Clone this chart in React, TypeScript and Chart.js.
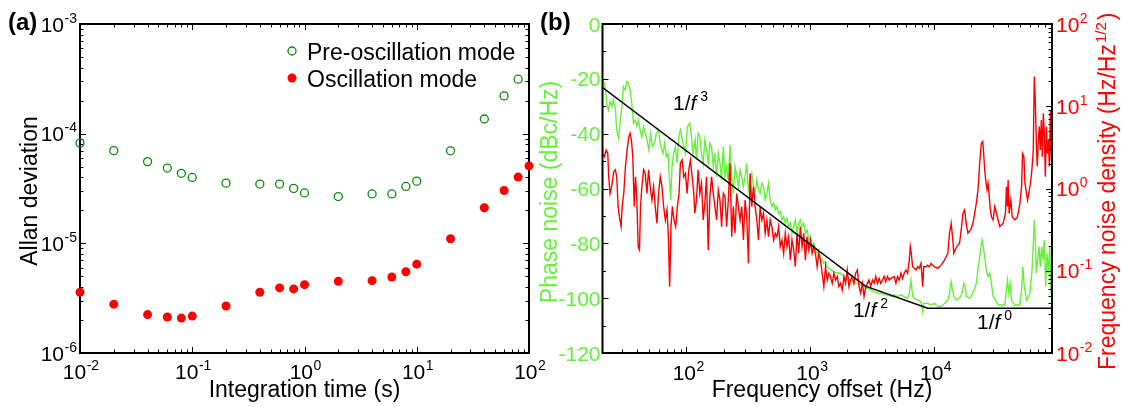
import React, { useEffect, useRef } from "react";
import { Chart, registerables } from "chart.js";

Chart.register(...registerables);

const FONT = '"Liberation Sans", Arial, Helvetica, sans-serif';
const W = 1122;
const H = 407;

const DARK_GREEN = "#0c8a0c";
const RED = "#ff0000";
const LIGHT_GREEN = "#66f03a";

// ---------------- Panel (a): Allan deviation ----------------
const tauPre = [0.01, 0.02, 0.04, 0.06, 0.08, 0.1, 0.2, 0.4, 0.6, 0.8, 1, 2, 4, 6, 8, 10, 20, 40, 60, 80];
const allanPre = [8.2e-5, 7.0e-5, 5.56e-5, 4.86e-5, 4.35e-5, 3.99e-5, 3.54e-5, 3.47e-5, 3.47e-5, 3.17e-5, 2.88e-5, 2.67e-5, 2.82e-5, 2.82e-5, 3.3e-5, 3.69e-5, 6.98e-5, 1.36e-4, 2.21e-4, 3.14e-4];
const tauOsc = [0.01, 0.02, 0.04, 0.06, 0.08, 0.1, 0.2, 0.4, 0.6, 0.8, 1, 2, 4, 6, 8, 10, 20, 40, 60, 80, 100];
const allanOsc = [3.58e-6, 2.79e-6, 2.24e-6, 2.13e-6, 2.08e-6, 2.17e-6, 2.68e-6, 3.58e-6, 3.92e-6, 3.84e-6, 4.2e-6, 4.5e-6, 4.57e-6, 4.93e-6, 5.51e-6, 6.46e-6, 1.1e-5, 2.11e-5, 3.03e-5, 4.02e-5, 5.08e-5];
const tauTickExps = [-2, -1, 0, 1, 2];
const allanTickExps = [-6, -5, -4, -3];
const legendLabels = ["Pre-oscillation mode", "Oscillation mode"];

// ---------------- Panel (b): phase / frequency noise ----------------
const phaseFreq = [
  20.6, 21.3, 22.1, 22.6, 23.4, 24.1, 24.9, 25.6, 26.6, 27.3,
  28.3, 29.2, 30.2, 30.9, 31.9, 32.9, 34.0, 35.0, 36.1, 37.3,
  38.5, 39.7, 40.9, 42.2, 43.6, 45.0, 46.4, 47.9, 49.7, 51.3,
  52.9, 55.3, 57.0, 59.5, 61.8, 64.6, 66.6, 68.7, 70.9, 74.5,
  76.4, 78.8, 81.3, 83.9, 86.6, 89.3, 93.9, 98.1, 101.8, 106.4,
  109.7, 113.2,
  117.6, 120.5, 124.3, 128.3, 132.3, 136.5, 140.8, 145.3, 150.0, 154.7,
  159.6, 164.7, 169.9, 175.3, 180.8, 186.5, 192.4, 198.6, 204.8, 211.3,
  218.0, 224.9, 232.1, 239.4, 247.0, 254.8, 263.0, 271.3, 279.9, 288.8,
  297.9, 307.4, 317.0, 327.1, 337.5, 348.1, 359.2, 370.6, 382.3, 394.4,
  406.9, 419.8, 433.1, 446.8, 461.0, 475.6, 490.7, 506.2, 522.3, 538.8,
  555.9, 573.5, 591.7, 610.5, 629.8, 649.8, 670.4, 691.6, 713.6, 736.2,
  759.6, 783.4, 808.3, 833.8, 860.3, 887.5, 915.7, 944.7, 974.7, 1006,
  1038, 1070, 1104, 1139, 1175, 1213, 1251, 1291, 1332, 1374,
  1418, 1462, 1556, 1657, 1764, 1877, 1998, 2127, 2263, 2409,
  2565, 2729, 2905, 3092, 3291, 3503, 3728, 3968, 4224, 4496,
  4786, 5093, 5422, 5770, 6142, 6338, 6537, 6661, 6787, 6958,
  7407, 7884, 8137, 8290, 8932, 9506, 10118, 10770, 11463, 12202,
  12988, 13398, 13823, 14173, 14531, 15179, 16157, 16879, 17525, 17967,
  18420, 19486, 20740, 22078, 23066, 23944, 24547, 25168, 25800, 26617,
  27463, 28332, 29240, 30161, 31510,
  33130, 37520, 38710, 39440, 40440, 41460, 42500, 45240, 49690, 51270,
  52560, 53890, 56290, 59920, 62580, 64970, 66200, 67450, 69160, 70910,
  72700, 74540, 76420, 78340, 80330, 82350, 84420, 86560, 88740, 91000,
  92720,
];
const phaseNoise = [
  -19.8, -21.0, -23.5, -28.9, -31.4, -28.3, -30.1, -27.7, -30.8, -38.7,
  -41.7, -35.0, -29.5, -22.9, -24.1, -21.0, -21.6, -24.1, -28.9, -36.2,
  -35.0, -37.4, -35.0, -38.7, -41.1, -37.4, -39.9, -42.3, -46.0, -39.9,
  -44.7, -43.5, -39.9, -38.7, -44.7, -47.2, -43.5, -48.4, -47.2, -64.2,
  -52.0, -47.2, -44.7, -50.8, -41.1, -38.7, -43.5, -47.2, -37.4, -36.2,
  -41.1, -47.2,
  -42.3, -49.6, -39.9, -41.1, -47.2, -50.8, -42.3, -46.0, -50.8, -43.5,
  -44.7, -52.0, -47.2, -55.7, -47.2, -50.8, -56.9, -44.7, -55.7, -52.0,
  -56.9, -44.1, -55.7, -61.8, -52.0, -55.7, -59.3, -53.2, -55.7, -59.3,
  -55.7, -50.8, -60.5, -56.9, -54.5, -59.3, -61.8, -56.9, -60.5, -61.8,
  -58.1, -59.3, -64.2, -61.8, -58.1, -64.2, -66.6, -65.4, -67.8, -66.6,
  -69.1, -68.4, -71.5, -70.3, -72.7, -70.9, -73.9, -72.7, -76.3, -73.9,
  -71.5, -76.3, -72.7, -71.5, -73.9, -72.7, -76.3, -75.1, -78.8, -77.6,
  -81.2, -80.0, -82.4, -83.6, -82.4, -84.9, -86.1, -87.3, -86.7, -88.5,
  -89.1, -89.7, -90.3, -90.9, -90.9, -92.1, -92.8, -93.4, -94.6, -94.6,
  -95.2, -95.8, -96.4, -97.0, -97.6, -98.2, -98.2, -98.8, -98.8, -99.4,
  -98.8, -99.4, -98.8, -99.4, -100.0, -98.2, -93.4, -97.0, -99.4, -100.0,
  -100.7, -101.3, -104.9, -101.9, -101.9, -102.5, -101.9, -103.1, -103.1, -101.9,
  -100.7, -98.2, -94.0, -97.0, -99.4, -100.7, -100.0, -98.2, -94.6, -95.8,
  -99.4, -100.0, -98.2, -94.6, -87.3, -82.4, -78.8, -81.2, -84.9, -89.7,
  -92.1, -90.9, -94.6, -99.4, -100.7,
  -102.5, -102.5, -97.0, -93.4, -98.2, -94.6, -100.7, -102.5, -102.5, -97.0,
  -88.5, -95.8, -100.7, -98.2, -88.5, -71.5, -78.8, -90.9, -86.1, -81.2,
  -88.5, -81.2, -86.1, -78.8, -95.8, -83.6, -90.9, -81.2, -98.2, -83.6,
  -86.1,
];

const densityFreq = [
  20.6, 21.0, 21.7, 22.4, 23.1, 23.5, 24.1, 24.7, 25.3, 25.8,
  26.6, 27.3, 28.0, 28.7, 29.6, 30.2, 31.1, 32.1, 33.1, 34.2,
  35.0, 35.9, 36.8, 37.8, 38.7, 39.7, 40.7, 41.7, 42.5, 43.6,
  45.0, 46.4, 47.9, 49.4, 50.9, 52.6, 54.2, 55.9, 57.7, 59.5,
  61.4, 63.4, 65.4, 67.5, 69.6, 71.4, 73.1, 75.0, 76.9, 79.3,
  81.8, 84.4, 87.1, 89.3, 92.1, 95.1, 98.1, 101.2, 104.4, 107.7,
  111.1, 114.6,
  116.8, 120.5, 124.3, 128.3, 132.3, 136.5, 140.8, 145.3, 150.0, 154.7,
  159.6, 164.7, 169.9, 175.3, 180.8, 186.5, 192.4, 198.6, 204.8, 211.3,
  218.0, 224.9, 232.1, 239.4, 247.0, 254.8, 263.0, 271.3, 279.9, 288.8,
  297.9, 307.4, 317.0, 327.1, 337.5, 348.1, 359.2, 370.6, 382.3, 394.4,
  406.9, 419.8, 433.1, 446.8, 461.0, 475.6, 490.7, 506.2, 522.3, 538.8,
  555.9, 573.5, 591.7, 610.5, 629.8, 649.8, 670.4, 691.6, 713.6, 736.2,
  759.6, 783.4, 808.3, 833.8, 860.3, 887.5, 915.7, 944.7, 974.7, 1006,
  1038, 1070, 1104, 1139, 1175, 1213, 1251, 1291, 1332, 1374,
  1418, 1462, 1509, 1556, 1606, 1657, 1709, 1764, 1819, 1877,
  1936, 1998, 2061, 2127, 2194, 2263, 2335, 2409, 2486, 2565,
  2646, 2729, 2816, 2905, 2997, 3092, 3190, 3291, 3395, 3503,
  3614, 3728, 3846, 3968, 4094, 4224, 4357, 4496, 4786,
  4938, 5093, 5254, 5422, 5594, 5770, 5953, 6142, 6338, 6457,
  6579, 6745, 6958, 7179, 7407, 7643, 7884, 8137, 8290, 8657,
  8932, 9216, 9506, 9808, 10118, 10770, 11463, 12202, 12988, 13398,
  13823, 14173, 14531, 14898, 15370, 16157, 16670, 17196, 17742, 18303,
  18885, 19855, 20740, 21400, 22078, 22780, 23500, 24240, 24860, 25320,
  25800, 26290, 26950, 27463, 27980, 28510, 29240, 30161,
  31120, 33130, 34170, 36370, 37990, 38710, 39440, 39930, 40680, 41980,
  43050, 45240, 47560, 49690, 51270, 52230, 53560, 54570, 57370, 59920,
  61820, 63770, 64970, 66200, 67450, 68730, 70030, 71350, 72700, 74080,
  75480, 76900, 78340, 79820, 81340, 82870, 84420, 86020, 87650, 89310,
  90980, 92720,
];
const noiseDensity = [
  5.13, 2.67, 2.44, 2.93, 2.67, 1.39, 0.871, 1.01, 1.27, 1.6,
  1.69, 1.39, 0.603, 0.454, 0.344, 0.603, 0.871, 1.85, 2.93, 4.27,
  4.68, 3.89, 2.44, 0.603, 1.39, 0.724, 0.197, 0.179, 0.603, 1.05,
  1.69, 1.52, 0.871, 1.69, 1.05, 0.724, 1.05, 0.603, 0.377, 0.871,
  1.39, 1.05, 0.603, 0.414, 0.55, 0.259, 0.0641, 0.344, 0.603, 0.414,
  0.344, 0.603, 0.871, 2.03, 2.22, 1.39, 1.52, 0.871, 1.69, 2.22,
  1.39, 0.871,
  0.498, 0.724, 1.69, 0.871, 1.16, 0.414, 0.661, 1.39, 0.179, 0.794,
  1.39, 0.871, 0.603, 0.414, 0.962, 0.724, 0.344, 0.871, 0.794, 0.344,
  0.724, 2.03, 0.259, 0.603, 0.286, 0.871, 0.603, 0.414, 0.603, 0.236,
  0.724, 0.454, 0.123, 1.52, 0.603, 1.05, 0.603, 0.414, 0.236, 0.603,
  0.414, 0.498, 0.286, 0.414, 0.259, 0.414, 0.344, 0.236, 0.286, 0.259,
  0.344, 0.197, 0.236, 0.163, 0.286, 0.197, 0.259, 0.135, 0.236, 0.179,
  0.112, 0.286, 0.163, 0.344, 0.197, 0.286, 0.135, 0.259, 0.179, 0.236,
  0.163, 0.197, 0.163, 0.112, 0.163, 0.135, 0.0933, 0.0641, 0.112, 0.0771,
  0.0933, 0.0851, 0.0703, 0.0933, 0.0771, 0.0851, 0.0641, 0.0703, 0.0585, 0.0851,
  0.0703, 0.102, 0.0641, 0.0771, 0.0851, 0.0703, 0.0933, 0.102, 0.0641, 0.0533,
  0.0703, 0.0486, 0.0641, 0.0703, 0.0771, 0.0641, 0.0771, 0.0703, 0.0851, 0.0703,
  0.0807, 0.0703, 0.0771, 0.0851, 0.0736, 0.0851, 0.0771, 0.0807, 0.0851,
  0.0703, 0.0851, 0.0771, 0.0933, 0.0807, 0.0933, 0.102, 0.0933, 0.135, 0.197,
  0.163, 0.112, 0.107, 0.102, 0.112, 0.107, 0.123, 0.0641, 0.112, 0.112,
  0.117, 0.112, 0.123, 0.117, 0.112, 0.107, 0.117, 0.135, 0.163, 0.286,
  0.377, 0.259, 0.163, 0.179, 0.197, 0.216, 0.314, 0.498, 0.55, 0.377,
  0.286, 0.314, 0.377, 0.498, 0.661, 0.962, 2.03, 3.55, 3.72, 2.67,
  1.69, 1.27, 0.962, 1.16, 0.871, 0.603, 0.454, 0.414,
  0.603, 0.414, 0.344, 0.377, 0.498, 1.05, 0.603, 1.27, 0.498, 0.724,
  0.454, 0.414, 0.454, 0.661, 1.05, 2.67, 2.44, 1.16, 0.724, 1.05,
  1.52, 2.93, 22.9, 11.9, 3.55, 1.85, 3.89, 5.67, 2.93, 6.81,
  2.44, 8.19, 4.68, 1.39, 5.67, 2.67, 3.89, 1.85, 8.98, 2.22,
  2.22, 2.03,
];

const fitFreq = [20.6, 2800, 8930, 88700];
const fitNoise = [-22.9, -95.6, -103.7, -103.7];
// slope annotations: exponent, anchor frequency (left edge), anchor noise level (baseline)
const slopeExps = ["3", "2", "0"];
const slopeFreq = [77.8, 2218, 22340];
const slopeNoise = [-31.4, -106.9, -111.4];
const freqTickExps = [2, 3, 4];
const phaseTicks = [0, -20, -40, -60, -80, -100, -120];
const densityTickExps = [-2, -1, 0, 1, 2];

// ---------------- drawing helpers ----------------
function logTicks(min: number, max: number) {
  const out: { v: number; major: boolean }[] = [];
  const k0 = Math.floor(Math.log10(min));
  const k1 = Math.ceil(Math.log10(max));
  for (let k = k0; k <= k1; k++) {
    for (let m = 1; m <= 9; m++) {
      const v = m * Math.pow(10, k);
      if (v >= min * 0.999999 && v <= max * 1.000001) out.push({ v, major: m === 1 });
    }
  }
  return out;
}

function drawPow(ctx: CanvasRenderingContext2D, x: number, y: number, exp: number | string, align: "left" | "right" | "center", color: string) {
  ctx.fillStyle = color;
  ctx.textAlign = "left";
  ctx.textBaseline = "alphabetic";
  ctx.font = `21px ${FONT}`;
  const wb = ctx.measureText("10").width;
  ctx.font = `14px ${FONT}`;
  const es = String(exp);
  const we = ctx.measureText(es).width;
  const total = wb + 0.5 + we;
  const x0 = align === "left" ? x : align === "right" ? x - total : x - total / 2;
  ctx.font = `21px ${FONT}`;
  ctx.fillText("10", x0, y);
  ctx.font = `14px ${FONT}`;
  ctx.fillText(es, x0 + wb + 0.5, y - 9);
}

function drawFrame(ctx: CanvasRenderingContext2D, a: any) {
  ctx.strokeStyle = "#000";
  ctx.lineWidth = 2;
  ctx.strokeRect(a.left, a.top, a.right - a.left, a.bottom - a.top);
}

const panelAPlugin = {
  id: "panelA",
  beforeDatasetsDraw(chart: any) {
    const { ctx, chartArea: a } = chart;
    const xs = chart.scales.x;
    const ys = chart.scales.y;
    ctx.save();
    ctx.strokeStyle = "#000";
    ctx.lineWidth = 1;
    ctx.beginPath();
    for (const t of logTicks(xs.min, xs.max)) {
      const px = Math.round(xs.getPixelForValue(t.v)) + 0.5;
      const L = t.major ? 6 : 3.5;
      ctx.moveTo(px, a.bottom);
      ctx.lineTo(px, a.bottom - L);
      ctx.moveTo(px, a.top);
      ctx.lineTo(px, a.top + L);
    }
    for (const t of logTicks(ys.min, ys.max)) {
      const py = Math.round(ys.getPixelForValue(t.v)) + 0.5;
      const L = t.major ? 6 : 3.5;
      ctx.moveTo(a.left, py);
      ctx.lineTo(a.left + L, py);
      ctx.moveTo(a.right, py);
      ctx.lineTo(a.right - L, py);
    }
    ctx.stroke();
    drawFrame(ctx, a);
    ctx.restore();
  },
  afterDraw(chart: any) {
    const { ctx, chartArea: a } = chart;
    const xs = chart.scales.x;
    const ys = chart.scales.y;
    ctx.save();
    for (const e of tauTickExps) drawPow(ctx, xs.getPixelForValue(Math.pow(10, e)) + 1, 379, e, "center", "#000");
    for (const e of allanTickExps) drawPow(ctx, a.left - 3, ys.getPixelForValue(Math.pow(10, e)) + 7.5, e, "right", "#000");

    ctx.fillStyle = "#000";
    ctx.font = `23px ${FONT}`;
    ctx.textAlign = "center";
    ctx.textBaseline = "alphabetic";
    ctx.fillText("Integration time (s)", (a.left + a.right) / 2, 397);
    ctx.save();
    ctx.translate(37, 191);
    ctx.rotate(-Math.PI / 2);
    ctx.fillText("Allan deviation", 0, 0);
    ctx.restore();

    // legend
    ctx.strokeStyle = DARK_GREEN;
    ctx.lineWidth = 1.3;
    ctx.beginPath();
    ctx.arc(292, 51, 4, 0, Math.PI * 2);
    ctx.stroke();
    ctx.fillStyle = RED;
    ctx.beginPath();
    ctx.arc(292, 78, 4.5, 0, Math.PI * 2);
    ctx.fill();
    ctx.fillStyle = "#000";
    ctx.textAlign = "left";
    ctx.font = `23px ${FONT}`;
    ctx.fillText(legendLabels[0], 307, 59.5);
    ctx.fillText(legendLabels[1], 307, 86.5);

    ctx.font = `bold 24px ${FONT}`;
    ctx.fillText("(a)", 8, 30);
    ctx.restore();
  },
};

function drawOverF(ctx: CanvasRenderingContext2D, x: number, y: number, exp: string) {
  ctx.fillStyle = "#000";
  ctx.textAlign = "left";
  ctx.textBaseline = "alphabetic";
  ctx.font = `21px ${FONT}`;
  ctx.fillText("1/", x, y);
  const w1 = ctx.measureText("1/").width;
  ctx.font = `italic 21px ${FONT}`;
  ctx.fillText("f", x + w1, y);
  const w2 = ctx.measureText("f").width;
  ctx.font = `14px ${FONT}`;
  ctx.fillText(exp, x + w1 + w2 + 4, y - 9);
}

const panelBPlugin = {
  id: "panelB",
  afterDraw(chart: any) {
    const { ctx, chartArea: a } = chart;
    const xs = chart.scales.x;
    const yl = chart.scales.yL;
    const yr = chart.scales.yR;
    ctx.save();
    ctx.strokeStyle = "#000";
    ctx.lineWidth = 1;
    ctx.beginPath();
    for (const t of logTicks(xs.min, xs.max)) {
      const px = Math.round(xs.getPixelForValue(t.v)) + 0.5;
      const L = t.major ? 6 : 3.5;
      ctx.moveTo(px, a.bottom);
      ctx.lineTo(px, a.bottom - L);
      ctx.moveTo(px, a.top);
      ctx.lineTo(px, a.top + L);
    }
    for (let v = -120; v <= 0; v += 10) {
      const py = Math.round(yl.getPixelForValue(v)) + 0.5;
      const L = v % 20 === 0 ? 6 : 3.5;
      ctx.moveTo(a.left, py);
      ctx.lineTo(a.left + L, py);
    }
    for (const t of logTicks(yr.min, yr.max)) {
      const py = Math.round(yr.getPixelForValue(t.v)) + 0.5;
      const L = t.major ? 6 : 3.5;
      ctx.moveTo(a.right, py);
      ctx.lineTo(a.right - L, py);
    }
    ctx.stroke();
    drawFrame(ctx, a);

    for (const e of freqTickExps) drawPow(ctx, xs.getPixelForValue(Math.pow(10, e)) + 2, 380, e, "center", "#000");
    ctx.font = `21px ${FONT}`;
    ctx.fillStyle = LIGHT_GREEN;
    ctx.textAlign = "right";
    for (const v of phaseTicks) ctx.fillText(String(v), a.left - 2, yl.getPixelForValue(v) + 7.5);
    for (const e of densityTickExps) drawPow(ctx, a.right + 4, yr.getPixelForValue(Math.pow(10, e)) + 7.5, e, "left", RED);

    // axis titles
    ctx.font = `23px ${FONT}`;
    ctx.textBaseline = "alphabetic";
    ctx.fillStyle = "#000";
    ctx.textAlign = "center";
    ctx.fillText("Frequency offset (Hz)", 822, 397);

    ctx.save();
    ctx.translate(557, 192);
    ctx.rotate(-Math.PI / 2);
    ctx.fillStyle = LIGHT_GREEN;
    ctx.fillText("Phase noise (dBc/Hz)", 0, 0);
    ctx.restore();

    ctx.save();
    ctx.translate(1115, 370);
    ctx.rotate(-Math.PI / 2);
    ctx.fillStyle = RED;
    ctx.textAlign = "left";
    ctx.font = `23px ${FONT}`;
    const t1 = "Frequency noise density (Hz/Hz";
    ctx.fillText(t1, 0, 0);
    const w1 = ctx.measureText(t1).width;
    ctx.font = `15px ${FONT}`;
    ctx.fillText("1/2", w1 + 1, -9);
    const w2 = ctx.measureText("1/2").width;
    ctx.font = `23px ${FONT}`;
    ctx.fillText(")", w1 + w2 + 3, 0);
    ctx.restore();

    // slope annotations
    slopeExps.forEach((ex, i) => {
      drawOverF(ctx, xs.getPixelForValue(slopeFreq[i]), yl.getPixelForValue(slopeNoise[i]), ex);
    });

    ctx.fillStyle = "#000";
    ctx.textAlign = "left";
    ctx.font = `bold 24px ${FONT}`;
    ctx.fillText("(b)", 540, 30);
    ctx.restore();
  },
};

export default function App() {
  const refA = useRef<HTMLCanvasElement>(null);
  const refB = useRef<HTMLCanvasElement>(null);

  useEffect(() => {
    const chartA = new Chart(refA.current as HTMLCanvasElement, {
      type: "scatter",
      data: {
        datasets: [
          {
            label: legendLabels[1],
            data: tauOsc.map((t, i) => ({ x: t, y: allanOsc[i] })),
            pointRadius: 4.5,
            pointBackgroundColor: RED,
            pointBorderColor: RED,
            pointBorderWidth: 0,
            showLine: false,
            clip: false,
          },
          {
            label: legendLabels[0],
            data: tauPre.map((t, i) => ({ x: t, y: allanPre[i] })),
            pointRadius: 4,
            pointBackgroundColor: "rgba(0,0,0,0)",
            pointBorderColor: DARK_GREEN,
            pointBorderWidth: 1.3,
            showLine: false,
            clip: false,
          },
        ],
      },
      options: {
        responsive: false,
        animation: false,
        events: [],
        layout: { padding: { left: 80, right: W - 529, top: 24, bottom: H - 353 } },
        plugins: { legend: { display: false }, tooltip: { enabled: false } },
        scales: {
          x: { type: "logarithmic", min: 0.01, max: 100, display: false },
          y: { type: "logarithmic", min: 1e-6, max: 1e-3, display: false },
        },
      },
      plugins: [panelAPlugin],
    } as any);

    const chartB = new Chart(refB.current as HTMLCanvasElement, {
      type: "scatter",
      data: {
        datasets: [
          {
            label: "Noise slopes",
            data: fitFreq.map((f, i) => ({ x: f, y: fitNoise[i] })),
            yAxisID: "yL",
            showLine: true,
            borderColor: "#000",
            borderWidth: 1.5,
            pointRadius: 0,
          },
          {
            label: "Frequency noise density",
            data: densityFreq.map((f, i) => ({ x: f, y: noiseDensity[i] })),
            yAxisID: "yR",
            showLine: true,
            borderColor: RED,
            borderWidth: 1.4,
            pointRadius: 0,
          },
          {
            label: "Phase noise",
            data: phaseFreq.map((f, i) => ({ x: f, y: phaseNoise[i] })),
            yAxisID: "yL",
            showLine: true,
            borderColor: LIGHT_GREEN,
            borderWidth: 1.4,
            pointRadius: 0,
          },
        ],
      },
      options: {
        responsive: false,
        animation: false,
        events: [],
        layout: { padding: { left: 602.5, right: W - 1052, top: 24, bottom: H - 353 } },
        plugins: { legend: { display: false }, tooltip: { enabled: false } },
        scales: {
          x: { type: "logarithmic", min: 20.94, max: 90360, display: false },
          yL: { type: "linear", position: "left", min: -120, max: 0, display: false },
          yR: { type: "logarithmic", position: "right", min: 0.01, max: 100, display: false },
        },
      },
      plugins: [panelBPlugin],
    } as any);

    return () => {
      chartA.destroy();
      chartB.destroy();
    };
  }, []);

  const cs: React.CSSProperties = { position: "absolute", left: 0, top: 0, width: W, height: H };
  return (
    <div style={{ position: "absolute", left: 0, top: 0, width: W, height: H, background: "#fff" }}>
      <canvas ref={refA} width={W} height={H} style={cs} />
      <canvas ref={refB} width={W} height={H} style={cs} />
    </div>
  );
}
